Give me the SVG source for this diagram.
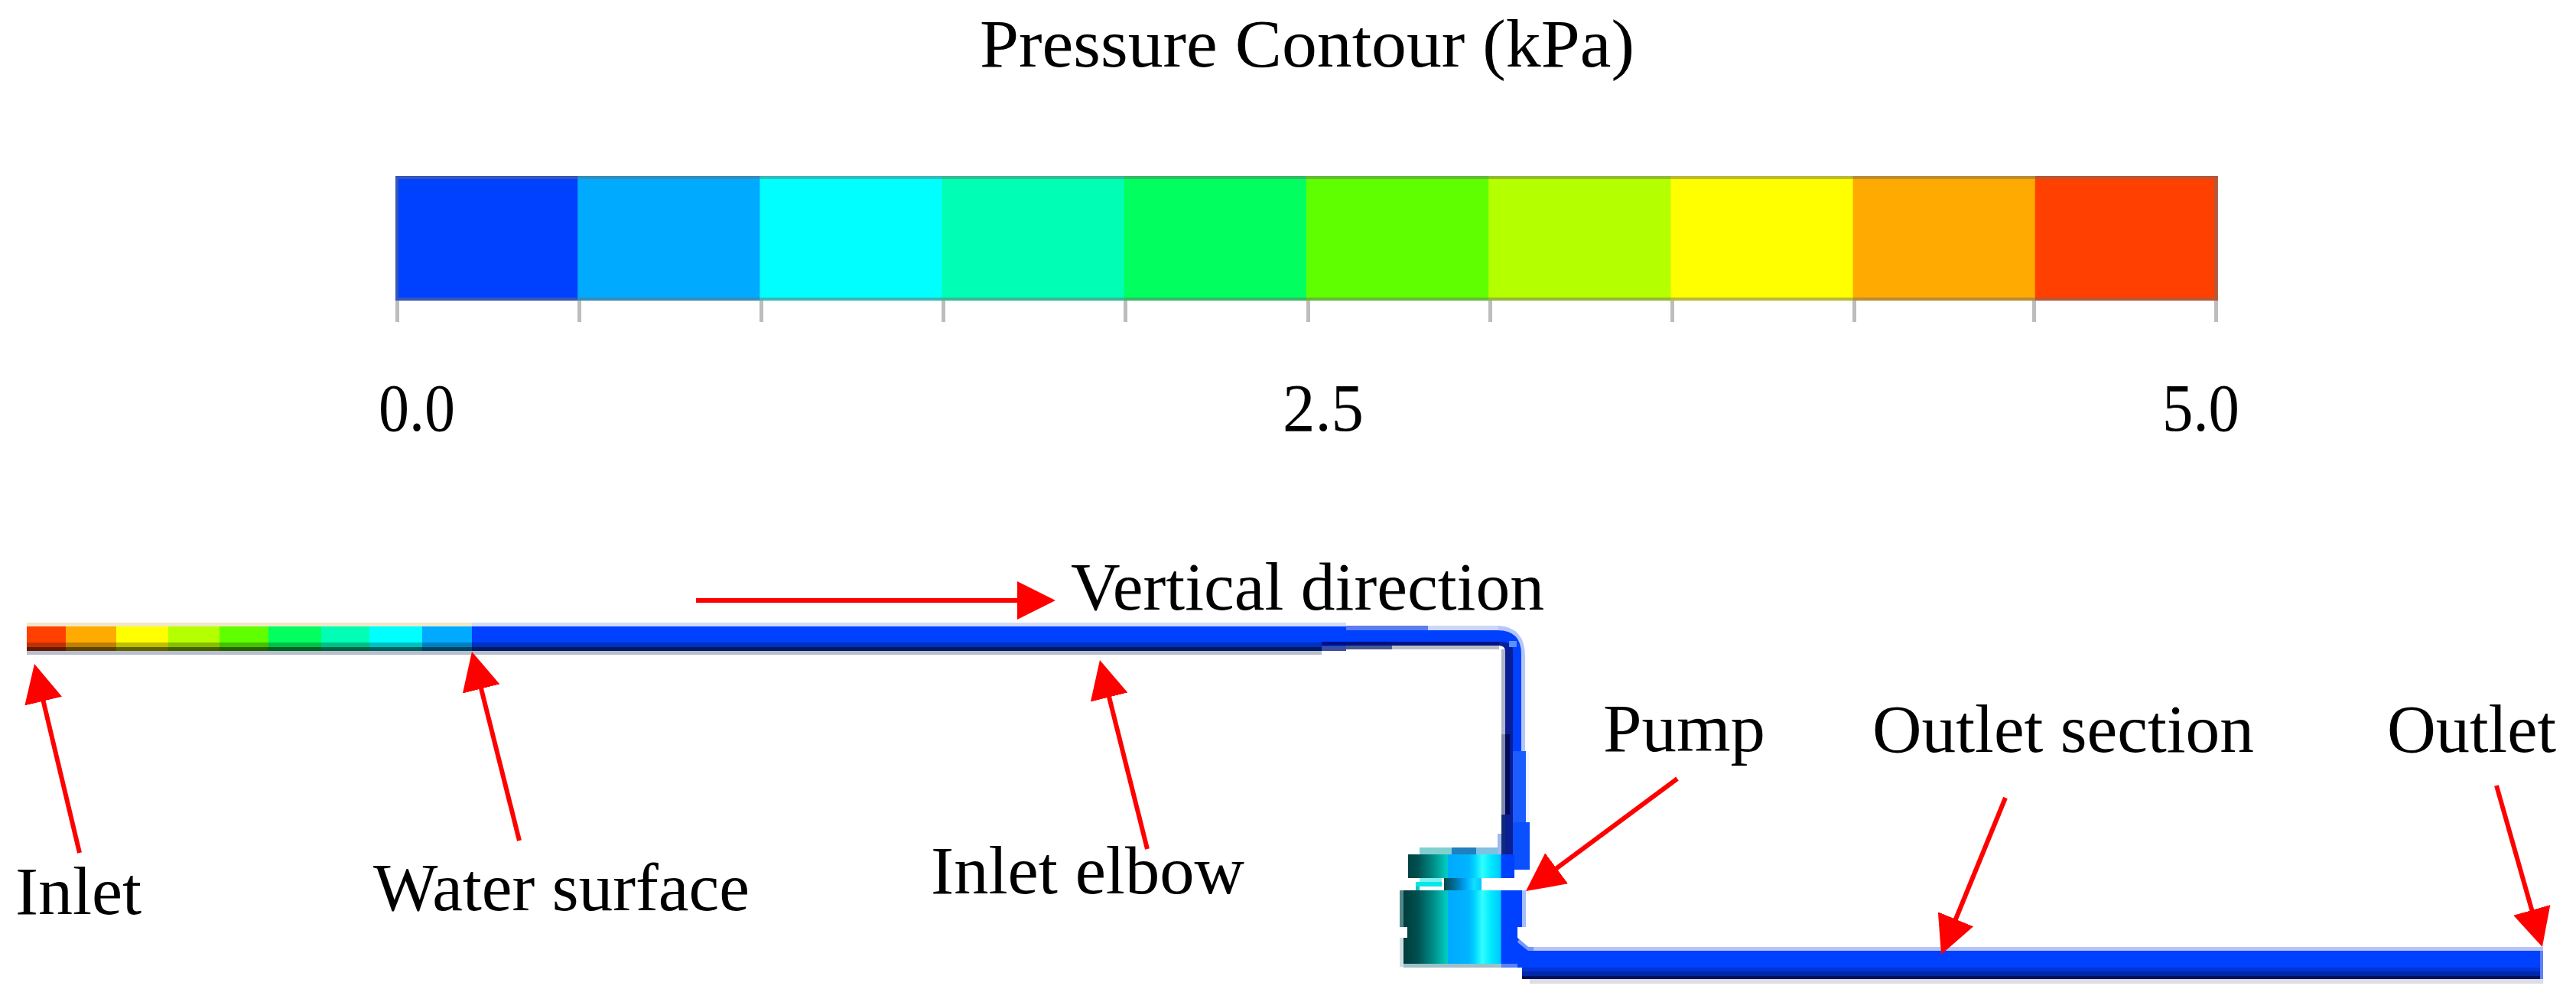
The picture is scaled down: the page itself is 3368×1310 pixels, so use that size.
<svg xmlns="http://www.w3.org/2000/svg" width="3368" height="1310" viewBox="0 0 3368 1310">
<style>
.t{font-family:"Liberation Serif","Times New Roman",serif;font-size:88px;fill:#000}
.l{font-family:"Liberation Serif","Times New Roman",serif;font-size:88px;fill:#000}
.arrow{stroke:#ff0000;stroke-width:6;fill:none;marker-end:url(#head)}
.tick{fill:#bdbdbd}
.edge{fill:#6e6e6e;opacity:.48}
</style>
<defs>
<marker id="head" markerUnits="userSpaceOnUse" viewBox="0 -30 60 60" markerWidth="60" markerHeight="60" refX="10" refY="0" orient="auto">
<path d="M0,-25 L50,0 L0,25 Z" fill="#ff0000"/>
</marker>
<linearGradient id="pumpGrad" gradientUnits="userSpaceOnUse" x1="1835" y1="0" x2="1990" y2="0">
<stop offset="0" stop-color="#003c3c"/>
<stop offset=".12" stop-color="#005050"/>
<stop offset=".25" stop-color="#008c88"/>
<stop offset=".37" stop-color="#00d0c0"/>
<stop offset=".375" stop-color="#00aaff"/>
<stop offset=".55" stop-color="#00b4ff"/>
<stop offset=".6" stop-color="#00d4ff"/>
<stop offset=".665" stop-color="#30ffff"/>
<stop offset=".74" stop-color="#00e8ff"/>
<stop offset=".82" stop-color="#00c8ff"/>
<stop offset=".826" stop-color="#0040ff"/>
<stop offset="1" stop-color="#0040ff"/>
</linearGradient>
<linearGradient id="neckGrad" gradientUnits="userSpaceOnUse" x1="1888" y1="0" x2="1937" y2="0">
<stop offset="0" stop-color="#004848"/>
<stop offset=".35" stop-color="#0078b0"/>
<stop offset=".6" stop-color="#00aaff"/>
<stop offset=".8" stop-color="#10e0ff"/>
<stop offset="1" stop-color="#00c8ff"/>
</linearGradient>
</defs>
<rect width="3368" height="1310" fill="#fff"/>

<g id="legend">
<text class="t" x="1281" y="87" textLength="856" lengthAdjust="spacingAndGlyphs">Pressure Contour (kPa)</text>
<g id="colorbar">
<rect x="517" y="230" width="239" height="163" fill="#0040ff"/>
<rect x="755.2" y="230" width="239" height="163" fill="#00aaff"/>
<rect x="993.4" y="230" width="239" height="163" fill="#00ffff"/>
<rect x="1231.6" y="230" width="239" height="163" fill="#00ffb4"/>
<rect x="1469.8" y="230" width="239" height="163" fill="#00ff5f"/>
<rect x="1708" y="230" width="239" height="163" fill="#60ff00"/>
<rect x="1946.2" y="230" width="239" height="163" fill="#b4ff00"/>
<rect x="2184.4" y="230" width="239" height="163" fill="#ffff00"/>
<rect x="2422.6" y="230" width="239" height="163" fill="#ffaa00"/>
<rect x="2660.8" y="230" width="239" height="163" fill="#ff4000"/>
<rect class="edge" x="517" y="230" width="2383" height="4"/>
<rect class="edge" x="517" y="389" width="2383" height="4"/>
<rect class="edge" x="517" y="234" width="4" height="155"/>
<rect class="edge" x="2895" y="234" width="5" height="155"/>
</g>
<g id="ticks">
<rect class="tick" x="517" y="393" width="5" height="28"/>
<rect class="tick" x="755" y="393" width="5" height="28"/>
<rect class="tick" x="993" y="393" width="5" height="28"/>
<rect class="tick" x="1231" y="393" width="5" height="28"/>
<rect class="tick" x="1469" y="393" width="5" height="28"/>
<rect class="tick" x="1708" y="393" width="5" height="28"/>
<rect class="tick" x="1946" y="393" width="5" height="28"/>
<rect class="tick" x="2184" y="393" width="5" height="28"/>
<rect class="tick" x="2422" y="393" width="5" height="28"/>
<rect class="tick" x="2657" y="393" width="5" height="28"/>
<rect class="tick" x="2895" y="393" width="5" height="28"/>
</g>
<text class="t" x="495" y="563" textLength="100" lengthAdjust="spacingAndGlyphs">0.0</text>
<text class="t" x="1677" y="563" textLength="106" lengthAdjust="spacingAndGlyphs">2.5</text>
<text class="t" x="2827" y="563" textLength="101" lengthAdjust="spacingAndGlyphs">5.0</text>
</g>

<g id="inlet-pipe">
<rect x="35" y="814" width="582" height="5" fill="#f0e8c8"/>
<rect x="617" y="814" width="1143" height="5" fill="#d2daf8"/>
<rect x="35" y="819" width="51" height="32" fill="#ff4000"/>
<rect x="86" y="819" width="66" height="32" fill="#ffaa00"/>
<rect x="152" y="819" width="68" height="32" fill="#ffff00"/>
<rect x="220" y="819" width="67" height="32" fill="#b4ff00"/>
<rect x="287" y="819" width="64" height="32" fill="#60ff00"/>
<rect x="351" y="819" width="69" height="32" fill="#00ff5f"/>
<rect x="420" y="819" width="63" height="32" fill="#00ffb4"/>
<rect x="483" y="819" width="69" height="32" fill="#00ffff"/>
<rect x="552" y="819" width="65" height="32" fill="#00aaff"/>
<rect x="617" y="819" width="1143" height="32" fill="#0040ff"/>
<rect x="35" y="840" width="1693" height="6" fill="#000" opacity=".25"/>
<rect x="35" y="846" width="1693" height="5" fill="#000" opacity=".62"/>
<rect x="35" y="851" width="1693" height="5" fill="#b8bfcc"/>
<rect x="1760" y="818" width="107" height="6" fill="#5c7cf0"/>
<rect x="1867" y="818" width="92" height="6" fill="#ccd6fa"/>
<rect x="1728" y="845" width="32" height="6" fill="#3c4ea0"/>
<rect x="1760" y="844" width="60" height="5" fill="#4a5a90"/>
<rect x="1820" y="844" width="140" height="5" fill="#b8bcc8"/>
<path d="M1959,818 Q1994,820 1994,858 V982 H1985 V858 Q1985,826 1959,824 Z" fill="#b4c6fa"/>
<rect x="1963" y="849" width="5" height="111" fill="#b0b6c6"/>
<rect x="1963" y="960" width="5" height="105" fill="#8088a8"/>
<rect x="1958" y="1090" width="5" height="27" fill="#a0b8f0"/>
<rect x="1963" y="1065" width="5" height="52" fill="#102a78"/>
<path d="M1728,824 H1958 Q1989,824 1989,855 V1117 H1968 V852 Q1968,844 1960,844 H1728 Z" fill="#0040ff"/>
<rect x="1728" y="839" width="232" height="5" fill="#001080"/>
<path d="M1960,839 Q1978,839 1978,850 V1117 H1968 V850 Q1968,844 1960,844 Z" fill="#0a1e96"/>
<rect x="1973" y="838" width="10" height="8" fill="#5a90ff"/>
<rect x="1968" y="960" width="6" height="105" fill="#000a60"/>
<rect x="1978" y="982" width="17" height="93" fill="#1a5cff"/>
<rect x="1995" y="982" width="4" height="93" fill="#f2f5ff"/>
<rect x="1978" y="1075" width="22" height="62" fill="#0a50ff"/>
</g>

<g id="pump">
<rect x="1856" y="1108" width="42" height="9" fill="#80d0d0"/>
<rect x="1898" y="1108" width="32" height="9" fill="#2080c0"/>
<rect x="1930" y="1108" width="28" height="9" fill="#80c0e0"/>
<rect x="1841" y="1117" width="122" height="31" fill="url(#pumpGrad)"/>
<rect x="1963" y="1117" width="17" height="31" fill="#0040ff"/>
<rect x="1856" y="1148" width="29" height="5" fill="#80f0f0"/>
<rect x="1851" y="1153" width="34" height="6" fill="#00e8e8"/>
<rect x="1851" y="1159" width="5" height="5" fill="#20c0c0"/>
<rect x="1888" y="1148" width="49" height="17" fill="url(#neckGrad)"/>
<rect x="1830" y="1164" width="5" height="48" fill="#508888"/>
<rect x="1835" y="1164" width="155" height="48" fill="url(#pumpGrad)"/>
<rect x="1990" y="1164" width="5" height="48" fill="#a8bcf8"/>
<rect x="1840" y="1212" width="144" height="14" fill="url(#pumpGrad)"/>
<rect x="1830" y="1226" width="5" height="38" fill="#d0e0e0"/>
<rect x="1835" y="1226" width="149" height="38" fill="url(#pumpGrad)"/>
<rect x="1835" y="1260" width="128" height="5" fill="#9cc0c8"/>
<rect x="1963" y="1260" width="27" height="5" fill="#5c80f8"/>
</g>

<g id="outlet-pipe">
<path d="M1984,1226 L1998,1238 H2005 V1243 H2000 V1265 H1984 Z" fill="#0040ff"/>
<path d="M1986,1228 L1999,1238 H2005 V1243 H1998 L1984,1232 Z" fill="#a8bcf8" opacity=".7"/>
<rect x="2005" y="1238" width="1320" height="5" fill="#b4c4fa"/>
<rect x="2000" y="1280" width="1325" height="6" fill="#dcdee6"/>
<rect x="1990" y="1243" width="1335" height="37" fill="#0040ff"/>
<rect x="1990" y="1265" width="1335" height="5" fill="#0036d8"/>
<rect x="1990" y="1270" width="1335" height="6" fill="#0028a8"/>
<rect x="1990" y="1276" width="1335" height="4" fill="#001060"/>
<rect x="3321" y="1243" width="4" height="37" fill="#5c80f8"/>
</g>

<g id="connectors">
<line class="arrow" x1="910" y1="785" x2="1340" y2="785"/>
<line class="arrow" x1="104" y1="1115" x2="54.3" y2="906.9"/>
<line class="arrow" x1="679" y1="1099" x2="626.7" y2="890.8"/>
<line class="arrow" x1="1500" y1="1110" x2="1447.7" y2="901.8"/>
<line class="arrow" x1="2193" y1="1018" x2="2027.1" y2="1141.2"/>
<line class="arrow" x1="2622" y1="1043" x2="2553.2" y2="1211"/>
<line class="arrow" x1="3264" y1="1027" x2="3313" y2="1199.5"/>
</g>

<g id="labels">
<text class="l" id="label-vertical" x="1400" y="797" textLength="619" lengthAdjust="spacingAndGlyphs">Vertical direction</text>
<text class="l" id="label-inlet" x="20" y="1195" textLength="165" lengthAdjust="spacingAndGlyphs">Inlet</text>
<text class="l" id="label-water" x="488" y="1190" textLength="492" lengthAdjust="spacingAndGlyphs">Water surface</text>
<text class="l" id="label-elbow" x="1217" y="1168" textLength="410" lengthAdjust="spacingAndGlyphs">Inlet elbow</text>
<text class="l" id="label-pump" x="2096" y="982" textLength="212" lengthAdjust="spacingAndGlyphs">Pump</text>
<text class="l" id="label-outlet-section" x="2448" y="983" textLength="499" lengthAdjust="spacingAndGlyphs">Outlet section</text>
<text class="l" id="label-outlet" x="3121" y="983" textLength="221" lengthAdjust="spacingAndGlyphs">Outlet</text>
</g>
</svg>
